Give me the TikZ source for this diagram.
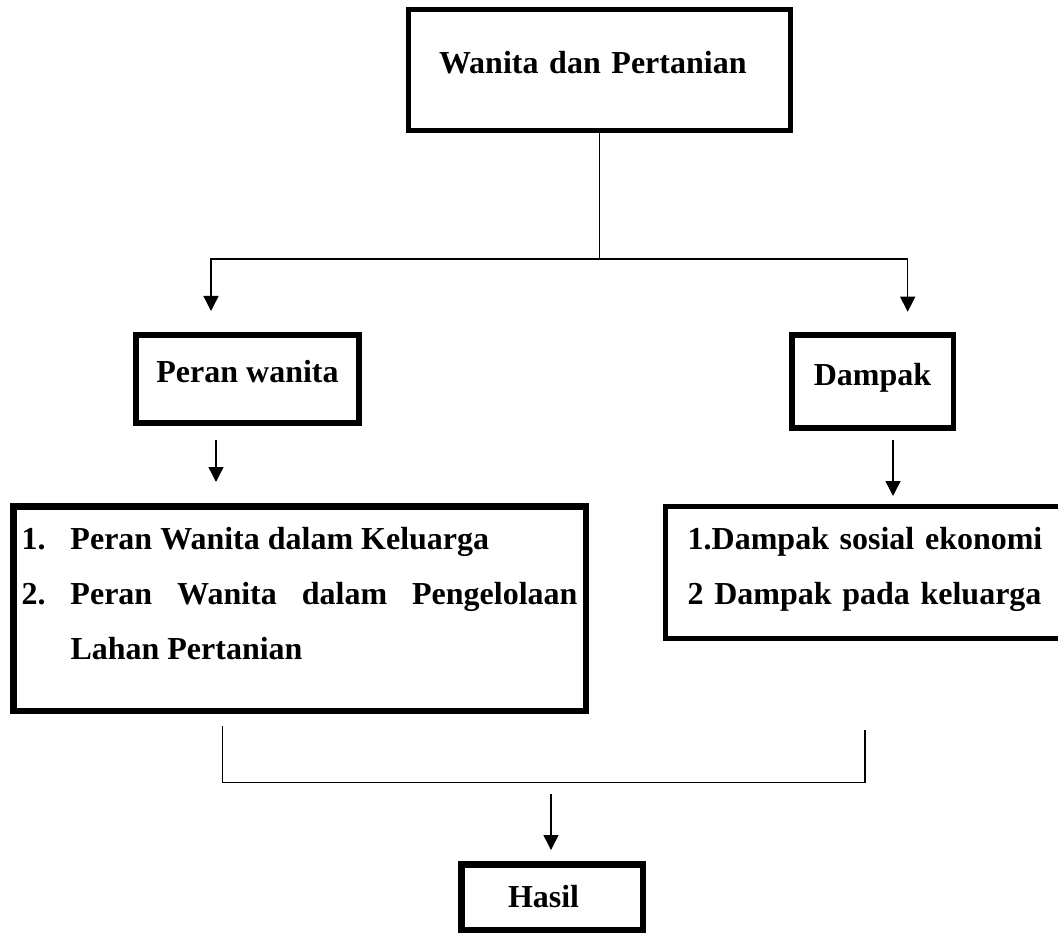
\documentclass[tikz,border=0pt]{standalone}
\usepackage{fontspec}
\setmainfont{Liberation Serif}
\usetikzlibrary{arrows.meta}
\begin{document}
\begin{tikzpicture}[x=1pt,y=1pt,
  box/.style={draw, rectangle, inner sep=0pt, text height=22pt,
    font=\bfseries\fontsize{32}{55}\selectfont},
  conn/.style={line width=1.4pt},
  arr/.style={line width=1.4pt, -{Triangle[width=15pt,length=15pt]}}]
\useasboundingbox (0,0) rectangle (1058,-933);
\clip (0,0) rectangle (1058,-933);

\node[box, line width=5pt, minimum width=382.3pt, minimum height=121pt,
  text width=320.7pt, inner xsep=30.8pt, align=left, text depth=14.6pt]
  (A) at (599.35,-70.3) {Wanita dan Pertanian};

\node[box, line width=6pt, minimum width=222.4pt, minimum height=87.4pt,
  text depth=14.6pt] (B) at (247.5,-379) {Peran wanita};

\node[box, line width=5.5pt, minimum width=161.5pt, minimum height=93pt,
  text depth=15pt] (C) at (872.5,-381.5) {Dampak};

\node[box, line width=6.5pt, minimum width=572.5pt, minimum height=204.5pt,
  text width=556pt, align=justify, text depth=141pt] (D) at (299.5,-608.5)
  {\noindent\makebox[49pt][l]{1.}Peran Wanita dalam Keluarga\par
   \noindent\hangindent=49pt\hangafter=1\makebox[49pt][l]{2.}Peran Wanita dalam Pengelolaan\linebreak Lahan Pertanian\par};

\node[box, line width=5pt, minimum width=396.2pt, minimum height=131.4pt,
  text width=352.4pt, inner xsep=21.9pt, align=left, text depth=69pt]
  (E) at (863.9,-572.5)
  {\mbox{1.Dampak sosial ekonomi}\par \mbox{2 Dampak pada keluarga}\par};

\node[box, line width=6.5pt, minimum width=181.5pt, minimum height=65.5pt,
  text width=88pt, inner xsep=46.75pt, align=left, text depth=2pt]
  (F) at (552,-897) {Hasil};

% top split
\coordinate (j) at (599.35,-259);
\coordinate (tl) at (211,-311);
\coordinate (tr) at (907.7,-311.7);
\draw[conn] (A.south) -- (j);
\draw[arr] (j) -| (tl);
\draw[arr] (j) -| (tr);

% middle arrows
\coordinate (bs) at (216,-440);
\coordinate (be) at (216,-482);
\coordinate (cs) at (893,-440);
\coordinate (ce) at (893,-496);
\draw[arr] (bs) -- (be);
\draw[arr] (cs) -- (ce);

% bottom bracket
\coordinate (bl) at (222.7,-726);
\coordinate (br) at (865,-730);
\coordinate (bm) at (551,-782.7);
\coordinate (hs) at (551,-794);
\coordinate (ht) at (551,-850);
\draw[conn] (bl) |- (bm) -| (br);
\draw[arr] (hs) -- (ht);
\end{tikzpicture}
\end{document}
